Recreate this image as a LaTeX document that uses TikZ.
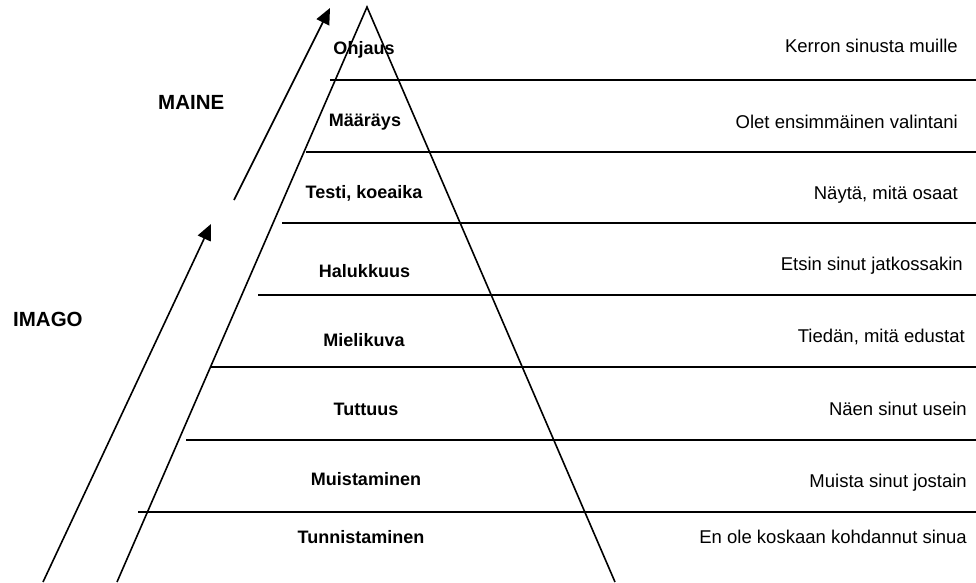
\documentclass[tikz,border=0pt]{standalone}
\usepackage{fontspec}
\setmainfont{Liberation Sans}
\usetikzlibrary{arrows.meta}
\begin{document}
\begin{tikzpicture}[x=1pt,y=-1pt,
  ln/.style={line width=1.6pt,line cap=butt},
  arr/.style={ln,-{Triangle[length=16pt,width=14pt]}},
  lvl/.style={font=\fontsize{18}{20}\selectfont\bfseries,anchor=base,inner sep=0pt},
  desc/.style={font=\fontsize{18.5}{20}\selectfont,anchor=base east,inner sep=0pt},
  big/.style={font=\fontsize{20.5}{22}\selectfont\bfseries,anchor=base west,inner sep=0pt}]
\useasboundingbox (0,0) rectangle (976,582);
% pyramid
\coordinate (apex) at (367,7);
\coordinate (bl) at (117,582);
\coordinate (br) at (615,582);
\draw[ln] (bl) -- (apex) -- (br);
% level lines
\foreach \y/\x in {80/330,152/306,223/282,295/258,367/210,440/186,512/138}{
  \coordinate (s\y) at (\x,\y);
  \coordinate (e\y) at (976,\y);
  \draw[ln] (s\y) -- (e\y);
}
% arrows
\coordinate (a1s) at (43,582);
\coordinate (a1e) at (211,224);
\coordinate (a2s) at (234,200);
\coordinate (a2e) at (330,8);
\draw[arr] (a1s) -- (a1e);
\draw[arr] (a2s) -- (a2e);
% side labels
\node[big] (maine) at (158,109) {MAINE};
\node[big] (imago) at (13,326) {IMAGO};
% level labels
\node[lvl] (l1) at (364,54) {Ohjaus};
\node[lvl] (l2) at (365,126) {Määräys};
\node[lvl] (l3) at (364,198) {Testi, koeaika};
\node[lvl] (l4) at (364.5,277) {Halukkuus};
\node[lvl] (l5) at (364,346) {Mielikuva};
\node[lvl] (l6) at (366,415) {Tuttuus};
\node[lvl] (l7) at (366,485) {Muistaminen};
\node[lvl] (l8) at (361,543) {Tunnistaminen};
% descriptions
\node[desc] (d1) at (958,52) {Kerron sinusta muille};
\node[desc] (d2) at (958,128) {Olet ensimmäinen valintani};
\node[desc] (d3) at (958,199) {Näytä, mitä osaat};
\node[desc] (d4) at (963,270) {Etsin sinut jatkossakin};
\node[desc] (d5) at (965,342) {Tiedän, mitä edustat};
\node[desc] (d6) at (967,415) {Näen sinut usein};
\node[desc] (d7) at (967,487) {Muista sinut jostain};
\node[desc] (d8) at (967,543) {En ole koskaan kohdannut sinua};
\end{tikzpicture}
\end{document}
